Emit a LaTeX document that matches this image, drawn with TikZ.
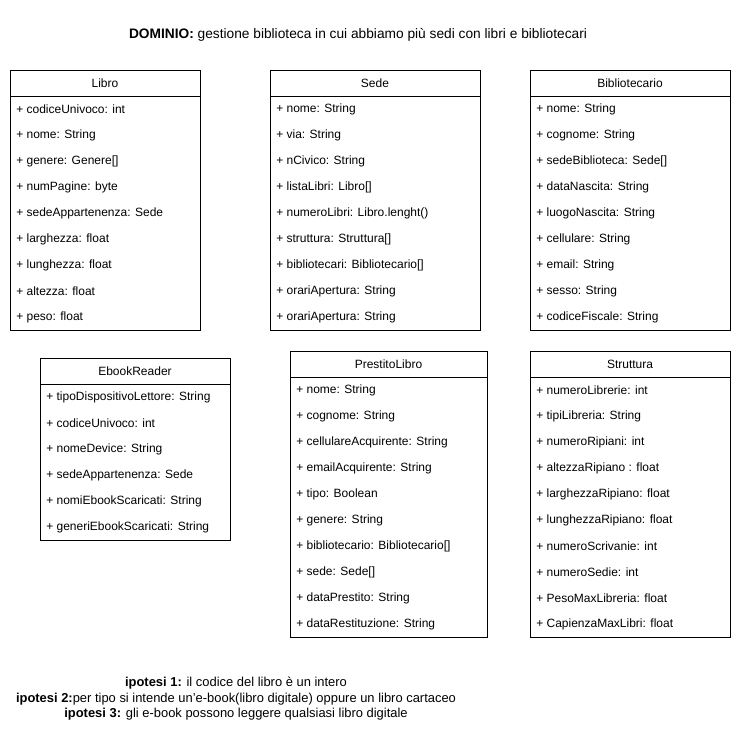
\documentclass[tikz,border=0pt]{standalone}
\usepackage{fontspec}
\setmainfont{Liberation Sans}
\usetikzlibrary{positioning}
\tikzset{
  clshead/.style ={draw=black,line width=0.75pt,minimum height=19.5pt,
                   inner sep=0pt,font=\fontsize{9}{11}\selectfont},
  clsbody/.style ={draw=black,line width=0.75pt,inner sep=0pt},
  attr/.style    ={anchor=west,inner sep=0pt,font=\fontsize{9}{11}\selectfont},
  note/.style    ={align=center,inner sep=0pt,font=\fontsize{9.7}{11.6}\selectfont},
}

\begin{document}
\begin{tikzpicture}[x=0.75pt, y=-0.75pt]
\useasboundingbox (0,0) rectangle (741,728);

%% ---------------- title ----------------
\node[note,font=\fontsize{10.3}{12}\selectfont] (titolo) at (358,35)
  {\textbf{DOMINIO:} gestione biblioteca in cui abbiamo più sedi con libri e bibliotecari};

%% ---------------- first row of classes ----------------
\node[clshead,minimum width=142.5pt] (libro) at (105,83) {Libro};
\node[clsbody,minimum width=142.5pt,minimum height=175.5pt] (libro-body) at (105,213) {};
\foreach \a [count=\i from 0] in {codiceUnivoco: int, nome: String, genere: Genere[],
    numPagine: byte, sedeAppartenenza: Sede, larghezza: float, lunghezza: float,
    altezza: float, peso: float}
  \node[attr] (libro-a\i) at (16,109.5+26*\i) {+ \a};

\node[clshead,minimum width=157.5pt] (sede) at (375,83) {Sede};
\node[clsbody,minimum width=157.5pt,minimum height=175.5pt] (sede-body) at (375,213) {};
\foreach \a [count=\i from 0] in {nome: String, via: String, nCivico: String,
    listaLibri: Libro[], numeroLibri: Libro.lenght(), struttura: Struttura[],
    bibliotecari: Bibliotecario[], orariApertura: String, orariApertura: String}
  \node[attr] (sede-a\i) at (276,109.5+26*\i) {+ \a};

\node[clshead,minimum width=150pt] (bibliotecario) at (630,83) {Bibliotecario};
\node[clsbody,minimum width=150pt,minimum height=175.5pt] (bibliotecario-body) at (630,213) {};
\foreach \a [count=\i from 0] in {nome: String, cognome: String, sedeBiblioteca: Sede[],
    dataNascita: String, luogoNascita: String, cellulare: String, email: String,
    sesso: String, codiceFiscale: String}
  \node[attr] (bibliotecario-a\i) at (536,109.5+26*\i) {+ \a};

%% ---------------- second row of classes ----------------
\node[clshead,minimum width=142.5pt] (ebook) at (135,371) {EbookReader};
\node[clsbody,minimum width=142.5pt,minimum height=117pt] (ebook-body) at (135,462) {};
\foreach \a [count=\i from 0] in {tipoDispositivoLettore: String, codiceUnivoco: int,
    nomeDevice: String, sedeAppartenenza: Sede, nomiEbookScaricati: String,
    generiEbookScaricati: String}
  \node[attr] (ebook-a\i) at (46,397.5+26*\i) {+ \a};

\node[clshead,minimum width=147.75pt] (prestito) at (388.5,364) {PrestitoLibro};
\node[clsbody,minimum width=147.75pt,minimum height=195pt] (prestito-body) at (388.5,507) {};
\foreach \a [count=\i from 0] in {nome: String, cognome: String,
    cellulareAcquirente: String, emailAcquirente: String, tipo: Boolean,
    genere: String, bibliotecario: Bibliotecario[], sede: Sede[],
    dataPrestito: String, dataRestituzione: String}
  \node[attr] (prestito-a\i) at (296,390.5+26*\i) {+ \a};

\node[clshead,minimum width=150pt] (struttura) at (630,364) {Struttura};
\node[clsbody,minimum width=150pt,minimum height=195pt] (struttura-body) at (630,507) {};
\foreach \a [count=\i from 0] in {numeroLibrerie: int, tipiLibreria: String,
    numeroRipiani: int, altezzaRipiano : float, larghezzaRipiano: float,
    lunghezzaRipiano: float, numeroScrivanie: int, numeroSedie: int,
    PesoMaxLibreria: float, CapienzaMaxLibri: float}
  \node[attr] (struttura-a\i) at (536,390.5+26*\i) {+ \a};

%% ---------------- hypotheses ----------------
\node[note] (ipotesi) at (236,699)
  {\textbf{ipotesi 1:} il codice del libro è un intero\\
   \textbf{ipotesi 2:}per tipo si intende un'e-book(libro digitale) oppure un libro cartaceo\\
   \textbf{ipotesi 3:} gli e-book possono leggere qualsiasi libro digitale};

\end{tikzpicture}
\end{document}
